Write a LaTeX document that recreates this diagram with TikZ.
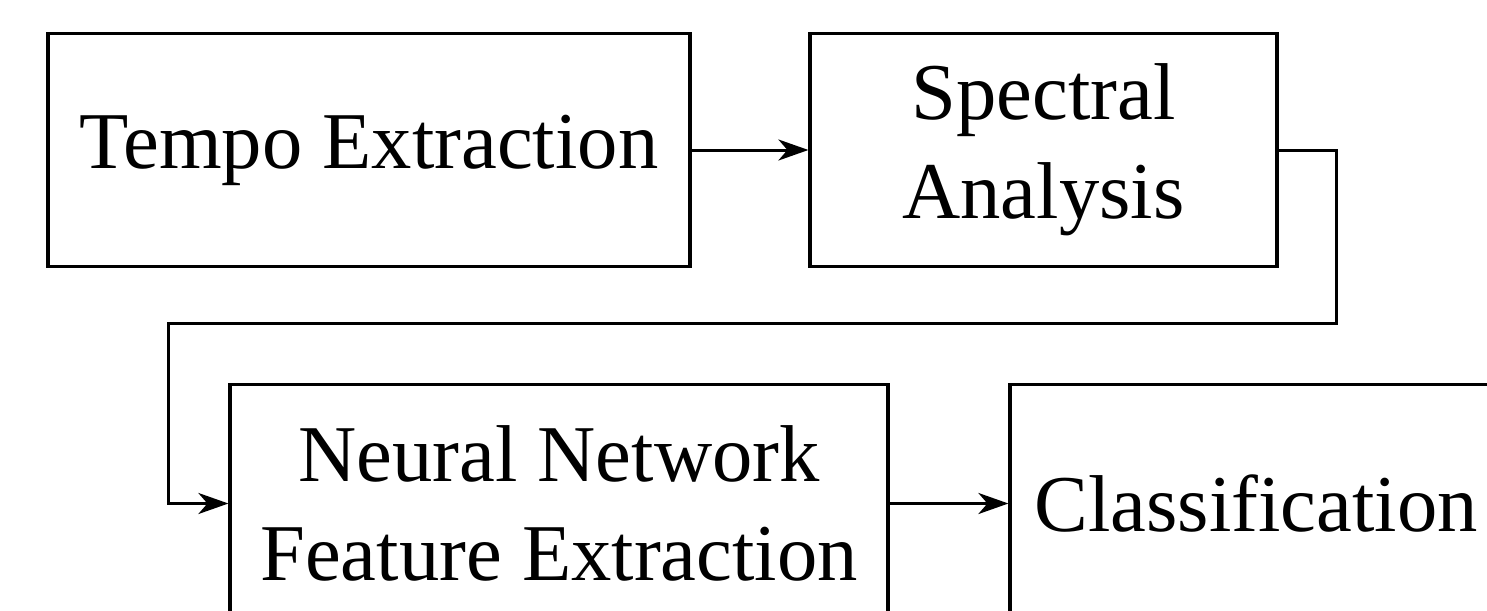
\documentclass[tikz,border=0pt]{standalone}
\usepackage{fontspec}
\setmainfont{Liberation Serif}
\usetikzlibrary{arrows.meta}
\begin{document}
\begin{tikzpicture}[x=0.5pt,y=-0.5pt,
  stagebox/.style={draw, line width=1.6pt, inner sep=0pt, align=center,
    font=\fontsize{40.3}{49.5}\selectfont},
  flow/.style={line width=1.5pt, -{Stealth[length=15pt,width=10.5pt,inset=4.5pt]}}]
\useasboundingbox (0,0) rectangle (1487,610);
\clip (0,0) rectangle (1487,610);
\fill[white] (0,0) rectangle (1487,610);
\node[stagebox, minimum width=321pt, minimum height=116.5pt] (A) at (369,150) {Tempo Extraction};
\node[stagebox, minimum width=233.5pt, minimum height=116.5pt] (B) at (1043.5,150) {Spectral\\Analysis};
\node[stagebox, minimum width=329pt, minimum height=119pt] (C) at (559,503.5) {Neural Network\\Feature Extraction};
\node[stagebox, minimum width=246pt, minimum height=119pt] (D) at (1256,503.5) {Classification};
\coordinate (r) at (1336,323);
\coordinate (l) at (168,323);
\draw[flow] (A.east) -- (B.west);
\draw[flow] (B.east) -| (r) -- (l) |- (C.west);
\draw[flow] (C.east) -- (D.west);
\end{tikzpicture}
\end{document}
